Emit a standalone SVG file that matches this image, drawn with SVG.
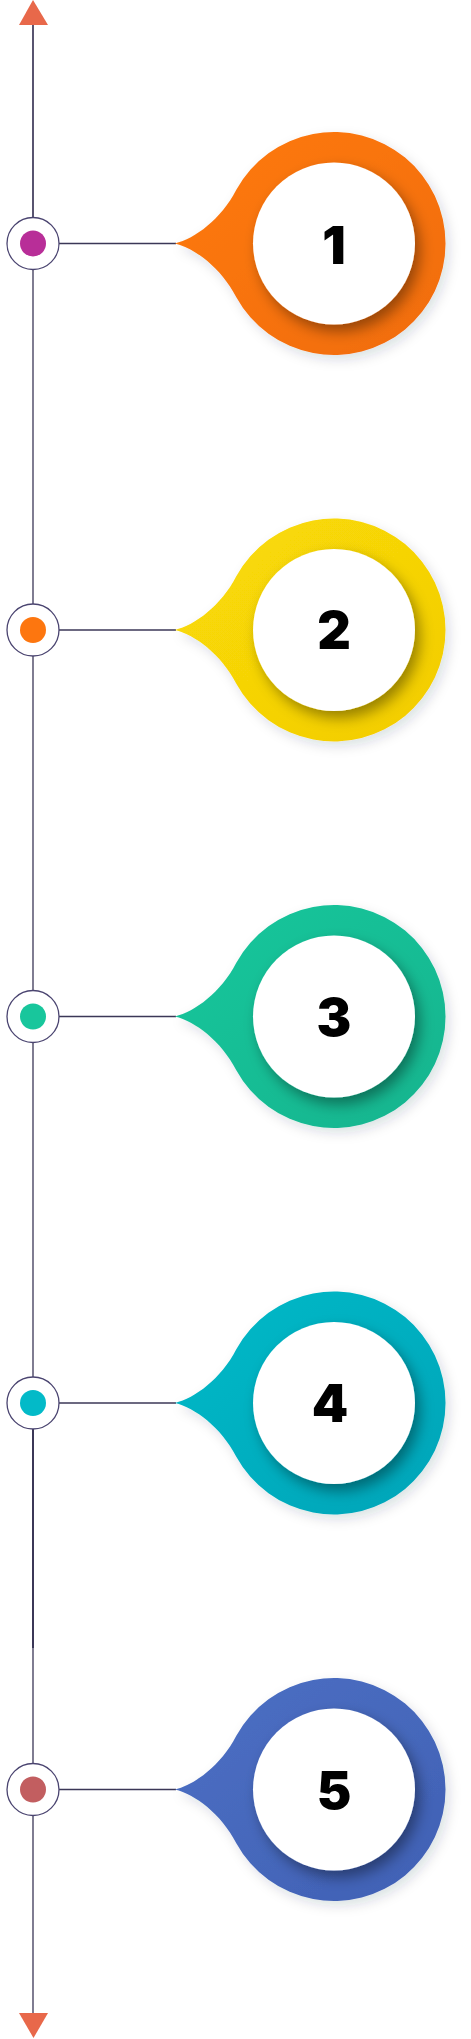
<svg xmlns="http://www.w3.org/2000/svg" xmlns:xlink="http://www.w3.org/1999/xlink" width="471" height="2039" viewBox="0 0 471 2039">
<style>
.axis{stroke:#3B3757;fill:none}
.link{stroke:#3B3757;stroke-width:1.5}
.ring{fill:#fff;stroke:#4A4470;stroke-width:1.3}
.num{font-family:Inter,"Liberation Sans",sans-serif;font-weight:900;font-size:52px;fill:#000;text-anchor:middle}
.arrow{fill:#E8684A}
</style>
<defs>
<path id="drop" d="M175,0 C195,-5 221,-24 236.3,-53.7 A111.5,111.5 0 1 1 236.3,53.7 C221,24 195,5 175,0 Z"/>
<filter id="outer" x="-20%" y="-20%" width="150%" height="150%">
<feDropShadow dx="4" dy="5" stdDeviation="6" flood-color="#1a2a40" flood-opacity="0.14"/>
</filter>
<filter id="inner" x="-30%" y="-30%" width="170%" height="170%">
<feDropShadow dx="5" dy="7" stdDeviation="7" flood-color="#000" flood-opacity="0.38"/>
</filter>
<linearGradient id="g1" x1="0" y1="0" x2="1" y2="1"><stop offset="0" stop-color="#FF7A10"/><stop offset="1" stop-color="#F06C0C"/></linearGradient>
<linearGradient id="g2" x1="0" y1="0" x2="1" y2="1"><stop offset="0" stop-color="#FADC08"/><stop offset="1" stop-color="#F2CC04"/></linearGradient>
<linearGradient id="g3" x1="0" y1="0" x2="1" y2="1"><stop offset="0" stop-color="#18C79C"/><stop offset="1" stop-color="#12B48E"/></linearGradient>
<linearGradient id="g4" x1="0" y1="0" x2="1" y2="1"><stop offset="0" stop-color="#03BAC8"/><stop offset="1" stop-color="#02A4B8"/></linearGradient>
<linearGradient id="g5" x1="0" y1="0" x2="1" y2="1"><stop offset="0" stop-color="#4C70C4"/><stop offset="1" stop-color="#4060B4"/></linearGradient>
</defs>
<g id="connectors">
<line class="axis" x1="33" y1="22" x2="33" y2="217.5" stroke-width="1.7"/>
<line class="axis" x1="33" y1="269.5" x2="33" y2="604" stroke-width="1.3"/>
<line class="axis" x1="33" y1="656" x2="33" y2="990.5" stroke-width="1.3"/>
<line class="axis" x1="33" y1="1042.5" x2="33" y2="1377" stroke-width="1.3"/>
<line class="axis" x1="33" y1="1429" x2="33" y2="1648" stroke-width="2"/>
<line class="axis" x1="33" y1="1648" x2="33" y2="1763.5" stroke-width="1.3"/>
<line class="axis" x1="33" y1="1815.5" x2="33" y2="2015" stroke-width="1.3"/>
<polygon class="arrow" points="33,0 19,25 48,25"/>
<polygon class="arrow" points="19,2013 48,2013 33.5,2038"/>
<line class="link" x1="59" y1="243.5" x2="176" y2="243.5"/>
<line class="link" x1="59" y1="630" x2="176" y2="630"/>
<line class="link" x1="59" y1="1016.5" x2="176" y2="1016.5"/>
<line class="link" x1="59" y1="1403" x2="176" y2="1403"/>
<line class="link" x1="59" y1="1789.5" x2="176" y2="1789.5"/>
</g>
<g id="node1" transform="translate(0,243.5)">
<circle class="ring" cx="33" cy="0" r="26"/>
<circle cx="33" cy="0" r="13" fill="#B82E98"/>
<use xlink:href="#drop" fill="url(#g1)" filter="url(#outer)"/>
<circle cx="334" cy="0" r="81" fill="#fff" filter="url(#inner)"/>
<text class="num" x="334" y="20">1</text>
</g>
<g id="node2" transform="translate(0,630)">
<circle class="ring" cx="33" cy="0" r="26"/>
<circle cx="33" cy="0" r="13" fill="#FD760F"/>
<use xlink:href="#drop" fill="url(#g2)" filter="url(#outer)"/>
<circle cx="334" cy="0" r="81" fill="#fff" filter="url(#inner)"/>
<text class="num" x="334" y="19">2</text>
</g>
<g id="node3" transform="translate(0,1016.5)">
<circle class="ring" cx="33" cy="0" r="26"/>
<circle cx="33" cy="0" r="13" fill="#18C69C"/>
<use xlink:href="#drop" fill="url(#g3)" filter="url(#outer)"/>
<circle cx="334" cy="0" r="81" fill="#fff" filter="url(#inner)"/>
<text class="num" x="334" y="19">3</text>
</g>
<g id="node4" transform="translate(0,1403)">
<circle class="ring" cx="33" cy="0" r="26"/>
<circle cx="33" cy="0" r="13" fill="#03BAC8"/>
<use xlink:href="#drop" fill="url(#g4)" filter="url(#outer)"/>
<circle cx="334" cy="0" r="81" fill="#fff" filter="url(#inner)"/>
<text class="num" x="330" y="19">4</text>
</g>
<g id="node5" transform="translate(0,1789.5)">
<circle class="ring" cx="33" cy="0" r="26"/>
<circle cx="33" cy="0" r="13" fill="#C25E60"/>
<use xlink:href="#drop" fill="url(#g5)" filter="url(#outer)"/>
<circle cx="334" cy="0" r="81" fill="#fff" filter="url(#inner)"/>
<text class="num" x="334" y="19">5</text>
</g>
</svg>
